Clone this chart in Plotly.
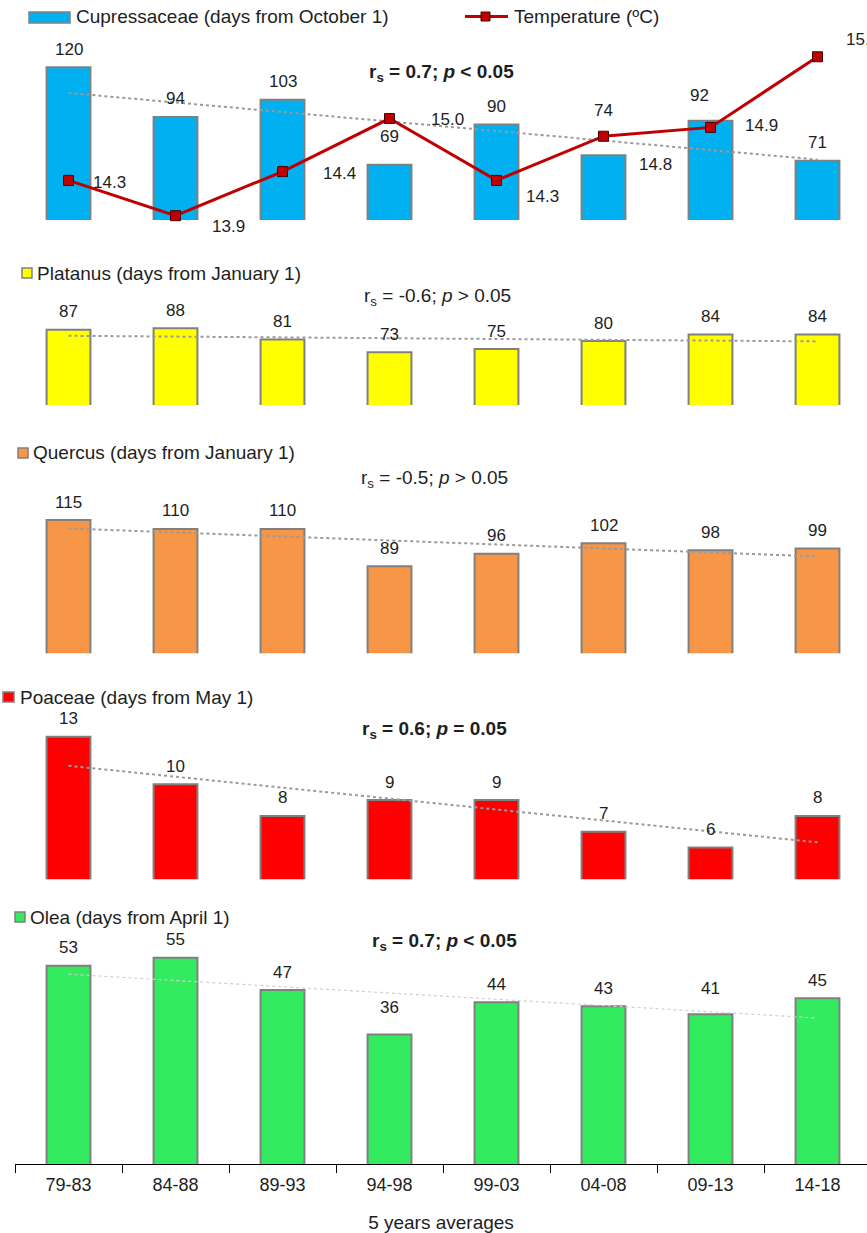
import numpy as np
import plotly.graph_objects as go

# ---- data -------------------------------------------------------------
periods = ["79-83", "84-88", "89-93", "94-98", "99-03", "04-08", "09-13", "14-18"]
cupressaceae = [120, 94, 103, 69, 90, 74, 92, 71]
temperature = [14.3, 13.9, 14.4, 15.0, 14.3, 14.8, 14.9, 15.7]
platanus = [87, 88, 81, 73, 75, 80, 84, 84]
quercus = [115, 110, 110, 89, 96, 102, 98, 99]
poaceae = [13, 10, 8, 9, 9, 7, 6, 8]
olea = [53, 55, 47, 36, 44, 43, 41, 45]

series_names = [
    "Cupressaceae (days from October 1)",
    "Platanus (days from January 1)",
    "Quercus (days from January 1)",
    "Poaceae (days from May 1)",
    "Olea (days from April 1)",
]
stats_text = [
    "<b>r<sub>s</sub> = 0.7; <i>p</i> &lt; 0.05</b>",
    "r<sub>s</sub> = -0.6; <i>p</i> &gt; 0.05",
    "r<sub>s</sub> = -0.5; <i>p</i> &gt; 0.05",
    "<b>r<sub>s</sub> = 0.6; <i>p</i> = 0.05</b>",
    "<b>r<sub>s</sub> = 0.7; <i>p</i> &lt; 0.05</b>",
]
x_title = "5 years averages"

# ---- page geometry (pixels) -------------------------------------------
W, H = 867, 1233
ML, MB = 15, 69
PW, PH = W - ML, H - MB
STEP = 107.0  # pixels per category

FONT = "Liberation Sans, Arial, sans-serif"
TXT = "#1e1e1e"


def fx(px):
    return (px - ML) / PW


def fy(py):
    return (PH - py) / PH


# panel layout: top px, bottom px, axis minimum, pixels per unit
panels = [
    dict(vals=cupressaceae, color="#00B0F0", top=28, bot=220, vmin=40, scale=1.908,
         leg=(29, 70, 12, 23), leg_text_x=74, leg_y=17, stat=(442, 73)),
    dict(vals=platanus, color="#FFFF00", top=290, bot=405, vmin=40, scale=1.6,
         leg=(22, 32, 268, 278), leg_text_x=35, leg_y=273, stat=(437, 297)),
    dict(vals=quercus, color="#F79646", top=465, bot=653.3, vmin=40, scale=1.777,
         leg=(18, 28, 448, 458), leg_text_x=31, leg_y=453, stat=(434, 479)),
    dict(vals=poaceae, color="#FF0000", top=705, bot=879.3, vmin=4, scale=15.84,
         leg=(3, 14, 692, 702), leg_text_x=18, leg_y=697, stat=(434, 730)),
    dict(vals=olea, color="#33EB5F", top=930, bot=1164, vmin=4, scale=4.045,
         leg=(15, 25, 912, 922), leg_text_x=28, leg_y=917, stat=(444, 942)),
]

# value-label lifts above bar tops (px); (panel, index) -> (dy, dx)
label_lift = {(0, 3): (28, 0), (0, 5): (45, 0), (0, 6): (25, -11),
              (4, 3): (27, 0), (4, 6): (26, 0)}
DEFAULT_LIFT = 18

# temperature label offsets relative to marker (dx, dy px)
temp_label_shift = [(22, -2), (34, -11), (38, -2), (39, -1),
                    (27, -16), (33, -28), (32, 2), (26, 17)]

fig = go.Figure()
annotations = []
shapes = []
layout_axes = {}

xrange_ = [-0.5, -0.5 + PW / STEP]

for i, p in enumerate(panels):
    n = "" if i == 0 else str(i + 1)
    xa, ya = "x" + n, "y" + n
    vals = p["vals"]

    fig.add_trace(go.Bar(
        x=periods, y=vals, xaxis=xa, yaxis=ya, width=0.41,
        marker=dict(color=p["color"], line=dict(color="#808080", width=2)),
        showlegend=False, hoverinfo="x+y",
    ))

    # linear trend across the periods
    idx = np.arange(len(vals))
    slope, icpt = np.polyfit(idx, vals, 1)
    trend = slope * idx + icpt
    if i == 4:
        tline = dict(color="#CFCFCF", width=1.2, dash="dot")
    else:
        tline = dict(color="#9A9A9A", width=2, dash="dot")
    fig.add_trace(go.Scatter(
        x=periods, y=trend, xaxis=xa, yaxis=ya, mode="lines",
        line=tline, showlegend=False, hoverinfo="skip",
    ))

    yr = [p["vmin"], p["vmin"] + (p["bot"] - p["top"]) / p["scale"]]
    layout_axes["yaxis" + n] = dict(
        domain=[fy(p["bot"]), fy(p["top"])], range=yr, visible=False,
        anchor=xa, fixedrange=True,
    )
    xdict = dict(range=xrange_, anchor=ya, domain=[0, 1], type="category",
                 fixedrange=True)
    if i < 4:
        xdict["visible"] = False
    else:
        xdict.update(
            visible=True, showline=True, linecolor="#000000", linewidth=1.3,
            ticks="outside", tickson="boundaries", ticklen=8, tickwidth=1,
            tickcolor="#000000", showgrid=False, zeroline=False,
            ticklabelstandoff=4,
            tickfont=dict(family=FONT, size=18, color=TXT),
            title=dict(text=x_title, font=dict(family=FONT, size=19, color=TXT),
                       standoff=24),
        )
    layout_axes["xaxis" + n] = xdict

    # bar value labels
    for j, v in enumerate(vals):
        dy, dx = label_lift.get((i, j), (DEFAULT_LIFT, 0))
        annotations.append(dict(
            x=periods[j], y=v, xref=xa, yref=ya, text=str(v), showarrow=False,
            yshift=dy, xshift=dx, font=dict(family=FONT, size=17, color=TXT),
        ))

    # legend swatch + name
    x0, x1, y0, y1 = p["leg"]
    shapes.append(dict(type="rect", xref="paper", yref="paper",
                       x0=fx(x0), x1=fx(x1), y0=fy(y1), y1=fy(y0),
                       fillcolor=p["color"], line=dict(color="#808080", width=1.5)))
    annotations.append(dict(
        x=fx(p["leg_text_x"]), y=fy(p["leg_y"]), xref="paper", yref="paper",
        text=series_names[i], showarrow=False, xanchor="left", yanchor="middle",
        font=dict(family=FONT, size=19, color=TXT),
    ))

    # correlation statement
    sx, sy = p["stat"]
    annotations.append(dict(
        x=fx(sx), y=fy(sy), xref="paper", yref="paper", text=stats_text[i],
        showarrow=False, xanchor="center", yanchor="middle",
        font=dict(family=FONT, size=19, color=TXT),
    ))

# ---- temperature on a secondary axis of the first panel -----------------
T_REF, T_REF_PX, T_SCALE = 13.9, 215.7, 88.3
p0 = panels[0]
t_range = [T_REF - (p0["bot"] - T_REF_PX) / T_SCALE,
           T_REF + (T_REF_PX - p0["top"]) / T_SCALE]
layout_axes["yaxis6"] = dict(
    domain=layout_axes["yaxis"]["domain"], range=t_range, overlaying="y",
    anchor="x", side="right", visible=False, fixedrange=True,
)
fig.add_trace(go.Scatter(
    x=periods, y=temperature, xaxis="x", yaxis="y6", mode="lines+markers",
    line=dict(color="#C00000", width=3),
    marker=dict(symbol="square", size=10, color="#C00000",
                line=dict(color="#4a0000", width=1)),
    cliponaxis=False, showlegend=False, hoverinfo="x+y",
))
for j, t in enumerate(temperature):
    dx, dy = temp_label_shift[j]
    annotations.append(dict(
        x=periods[j], y=t, xref="x", yref="y6", text=f"{t:.1f}", showarrow=False,
        xanchor="left", yanchor="middle", xshift=dx, yshift=dy,
        font=dict(family=FONT, size=17, color=TXT),
    ))

# temperature legend entry
shapes.append(dict(type="line", xref="paper", yref="paper",
                   x0=fx(465), x1=fx(508), y0=fy(16.5), y1=fy(16.5),
                   line=dict(color="#C00000", width=3)))
shapes.append(dict(type="rect", xref="paper", yref="paper",
                   x0=fx(481), x1=fx(490), y0=fy(21), y1=fy(12),
                   fillcolor="#C00000", line=dict(color="#4a0000", width=1)))
annotations.append(dict(
    x=fx(512), y=fy(17), xref="paper", yref="paper", text="Temperature (ºC)",
    showarrow=False, xanchor="left", yanchor="middle",
    font=dict(family=FONT, size=19, color=TXT),
))

fig.update_layout(
    width=W, height=H,
    margin=dict(l=ML, r=0, t=0, b=MB, pad=0),
    paper_bgcolor="#FFFFFF", plot_bgcolor="rgba(0,0,0,0)",
    barmode="group", showlegend=False,
    annotations=annotations, shapes=shapes,
    font=dict(family=FONT, color=TXT),
    **layout_axes,
)

fig.write_html("out.html")
